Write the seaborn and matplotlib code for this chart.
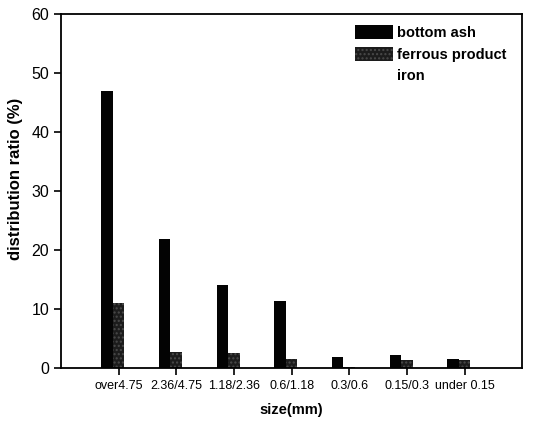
import pandas as pd
import matplotlib
matplotlib.use('Agg')
import matplotlib.pyplot as plt
import seaborn as sns

# Values
sizes = ["over4.75", "2.36/4.75", "1.18/2.36", "0.6/1.18", "0.3/0.6", "0.15/0.3", "under 0.15"]
bottom_ash = [47.0, 21.8, 14.0, 11.3, 1.8, 2.2, 1.5]
ferrous_product = [11.0, 2.7, 2.5, 1.5, 0.1, 1.3, 1.4]
iron = [0, 0, 0, 0, 0, 0, 0]
series = ["bottom ash", "ferrous product", "iron"]

df = pd.DataFrame({
    "size": sizes * 3,
    "ratio": bottom_ash + ferrous_product + iron,
    "series": [series[0]] * 7 + [series[1]] * 7 + [series[2]] * 7,
})

sns.set_style("ticks")
plt.rcParams['font.family'] = ['Liberation Sans', 'DejaVu Sans']
plt.rcParams['text.color'] = 'black'
plt.rcParams['axes.labelcolor'] = 'black'

fig = plt.figure(figsize=(5.34, 4.24), dpi=100)
ax = fig.add_axes([0.114, 0.132, 0.864, 0.835])

palette = {"bottom ash": "#030303", "ferrous product": "#1c1c1c", "iron": "white"}
sns.barplot(data=df, x="size", y="ratio", hue="series", hue_order=series,
            palette=palette, width=0.6, saturation=1, ax=ax, errorbar=None,
            linewidth=0)

# dotted texture on the ferrous bars
for bar in ax.containers[1]:
    bar.set_hatch("....")
    bar.set_edgecolor("#4a4a4a")
    bar.set_linewidth(0)

ax.set_xlim(-1, 7)
ax.set_ylim(0, 60)
ax.set_yticks([0, 10, 20, 30, 40, 50, 60])
ax.tick_params(axis='y', labelsize=11.5, direction='out', length=5, width=1.2,
               colors='black')
ax.tick_params(axis='x', labelsize=9, direction='out', length=5, width=1.2,
               colors='black')
ax.set_xlabel("size(mm)", fontsize=10.5, fontweight='bold', labelpad=8)
ax.set_ylabel("distribution ratio (%)", fontsize=12, fontweight='bold', labelpad=6, y=0.535)

for s in ax.spines.values():
    s.set_linewidth(1.3)
    s.set_color('black')

leg = ax.legend(loc='upper right', frameon=False, fontsize=10.5,
                handlelength=2.6, handleheight=1.1, handletextpad=0.3,
                labelspacing=0.45, borderaxespad=0.5, bbox_to_anchor=(0.995, 1.005))
for t in leg.get_texts():
    t.set_fontweight('bold')
    t.set_color('black')
leg.legend_handles[1].set_hatch("....")
leg.legend_handles[1].set_edgecolor("#4a4a4a")

fig.savefig("out.png", dpi=100)
